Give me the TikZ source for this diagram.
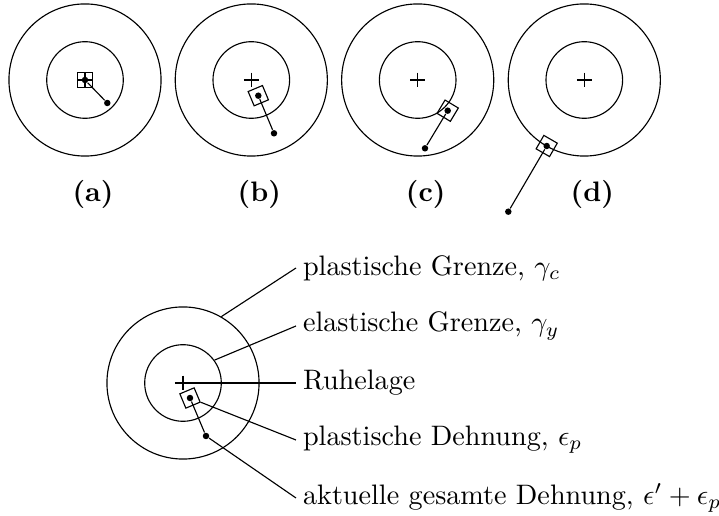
\documentclass[tikz,border=0pt]{standalone}
\usepackage{amsmath}

\begin{document}
\begin{tikzpicture}[
  x=0.355pt, y=-0.355pt,
  ringout/.style={draw,circle,minimum size=54pt,inner sep=0pt},
  ringin/.style={draw,circle,minimum size=27.2pt,inner sep=0pt},
  restpos/.style={minimum size=5.3pt,inner sep=0pt,
    path picture={\draw (path picture bounding box.north) -- (path picture bounding box.south)
      (path picture bounding box.west) -- (path picture bounding box.east);}},
  plast/.style={draw,minimum size=5.5pt,inner sep=0pt},
  ptdot/.style={circle,fill,minimum size=2.3pt,inner sep=0pt},
  lab/.style={anchor=west,inner sep=2.3pt},
  steplab/.style={font=\bfseries}
]
  \useasboundingbox (0,0) rectangle (719,516);
  % the four steps
  \foreach \n/\cx/\px/\py/\tx/\ty/\rot in {a/85/0/0/22.3/23/0,
      b/251.3/7/15.7/22.7/53.3/22.7, c/417.7/30/30.7/7.3/68.3/-31,
      d/584.3/-37.6/66/-76/131.7/-30}{
    \node[ringout] (out-\n) at (\cx,80) {};
    \node[ringin] (in-\n) at (\cx,80) {};
    \node[restpos] (rest-\n) at (\cx,80) {};
    \node[plast,rotate=\rot] (sq-\n) at (\cx+\px,80+\py) {};
    \node[ptdot] (p-\n) at (sq-\n) {};
    \node[ptdot] (t-\n) at (\cx+\tx,80+\ty) {};
    \draw (p-\n) -- (t-\n);
    \node[steplab] (lab-\n) at (\cx+8,194) {(\n)};
  }
  % legend
  \node[ringout] (out) at (183,383) {};
  \node[ringin] (in) at (183,383) {};
  \node[restpos] (rest) at (183,383) {};
  \node[plast,rotate=22.8] (sq) at (190,398) {};
  \node[ptdot] (p) at (sq) {};
  \node[ptdot] (t) at (206,436) {};
  \draw (p) -- (t);
  \node[lab] (lc) at (296,268) {plastische Grenze, $\gamma_c$};
  \node[lab] (ly) at (296,326) {elastische Grenze, $\gamma_y$};
  \node[lab] (lr) at (296,383) {Ruhelage};
  \node[lab] (lp) at (296,440) {plastische Dehnung, $\epsilon_p$};
  \node[lab] (lt) at (296,498) {aktuelle gesamte Dehnung, $\epsilon' + \epsilon_p$};
  \draw (out.60) -- (lc.west);
  \draw (in.36) -- (ly.west);
  \draw (rest.west) -- (lr.west);
  \draw (sq) -- (lp.west);
  \draw (t) -- (lt.west);
\end{tikzpicture}
\end{document}
